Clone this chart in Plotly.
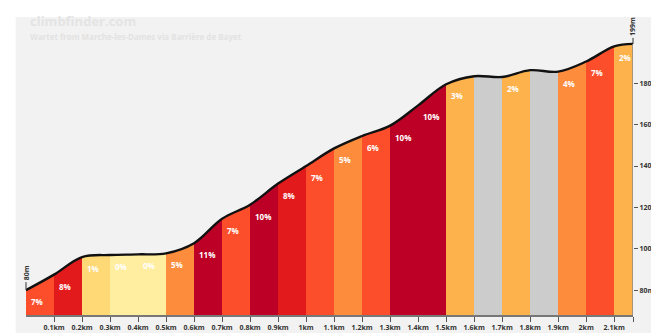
'''
    Climb profile: coloured gradient segments under a smoothed elevation line.
'''

import plotly.graph_objects as go

# distance marks along the climb (km) and elevation at each mark (m)
distance_km = [0, 0.1, 0.2, 0.3, 0.4, 0.5, 0.6, 0.7, 0.8, 0.9, 1.0, 1.1,
               1.2, 1.3, 1.4, 1.5, 1.6, 1.7, 1.8, 1.9, 2.0, 2.1, 2.167]
elevation_m = [80, 87.5, 96, 97, 97.3, 97.8, 102.7, 114.5, 121.3, 131.5, 140,
               148.5, 154.5, 159.5, 169.3, 179.5, 183.4, 183.0, 186.3, 185.6,
               190.5, 197.8, 199]

# gradient of each segment in percent (None = descent, shown grey, unlabeled)
grade_pct = [7, 8, 1, 0, 0, 5, 11, 7, 10, 8, 7, 5, 6, 10, 10, 3, None, 2,
             None, 4, 7, 2]

x_tick_vals = [0.1, 0.2, 0.3, 0.4, 0.5, 0.6, 0.7, 0.8, 0.9, 1.0, 1.1, 1.2,
               1.3, 1.4, 1.5, 1.6, 1.7, 1.8, 1.9, 2.0, 2.1]
x_tick_text = ['0.1km', '0.2km', '0.3km', '0.4km', '0.5km', '0.6km', '0.7km',
               '0.8km', '0.9km', '1km', '1.1km', '1.2km', '1.3km', '1.4km',
               '1.5km', '1.6km', '1.7km', '1.8km', '1.9km', '2km', '2.1km']
y_tick_vals = [80, 100, 120, 140, 160, 180]
y_tick_text = ['80m', '100m', '120m', '140m', '160m', '180m']

title = 'climbfinder.com'
subtitle = 'Wartet from Marche-les-Dames via Barrière de Bayet'

Y_MIN, Y_MAX = 68, 212
PANEL = '#f2f2f2'
FONT = 'Open Sans, sans-serif'


def grade_color(grade):
    if grade is None:
        return '#cccccc'
    if grade <= 0:
        return '#ffeda0'
    if grade <= 1:
        return '#fed976'
    if grade <= 3:
        return '#feb24c'
    if grade <= 5:
        return '#fd8d3c'
    if grade <= 7:
        return '#fc4e2a'
    if grade <= 9:
        return '#e31a1c'
    return '#bd0026'


n_seg = len(grade_pct)
starts = distance_km[:-1]
ends = distance_km[1:]
centers = [(a + b) / 2 for a, b in zip(starts, ends)]
widths = [b - a for a, b in zip(starts, ends)]
tops = [max(elevation_m[i], elevation_m[i + 1]) + 4 for i in range(n_seg)]

fig = go.Figure()

# coloured segments, cut off above the profile by the mask below
fig.add_trace(go.Bar(
    x=centers, y=[t - Y_MIN for t in tops], base=Y_MIN, width=widths,
    marker=dict(color=[grade_color(g) for g in grade_pct], line_width=0),
    hoverinfo='skip', showlegend=False))

# invisible ceiling, then the profile filled up to it with the panel colour
fig.add_trace(go.Scatter(
    x=distance_km, y=[Y_MAX] * len(distance_km), mode='lines',
    line=dict(width=0, color=PANEL), hoverinfo='skip', showlegend=False))
fig.add_trace(go.Scatter(
    x=distance_km, y=elevation_m, mode='lines', fill='tonexty',
    fillcolor=PANEL, line=dict(color='#111111', width=2.4, shape='spline'),
    hoverinfo='skip', showlegend=False))

# gradient labels
for i, g in enumerate(grade_pct):
    if g is None:
        continue
    fig.add_annotation(
        x=starts[i], y=elevation_m[i], text=f'{g}%', showarrow=False,
        xanchor='left', yanchor='top', xshift=3, yshift=-4,
        font=dict(family=FONT, size=8, color='white', weight='bold'))

# start / finish elevation labels
for xi, yi in ((distance_km[0], elevation_m[0]),
               (distance_km[-1], elevation_m[-1])):
    fig.add_annotation(
        x=xi, y=yi, text=f'{yi:.0f}m', textangle=-90, showarrow=True,
        arrowhead=0, arrowwidth=1, arrowcolor='#333333', ax=0, ay=-17,
        font=dict(family=FONT, size=7, color='#333333', weight='bold'))

# right-hand axis line, up to the finish
fig.add_shape(type='line', x0=distance_km[-1], x1=distance_km[-1],
              y0=Y_MIN, y1=elevation_m[-1], xref='x', yref='y',
              line=dict(color='#8a8a8a', width=1.5))

# grey panel behind everything
fig.add_shape(type='rect', xref='paper', yref='paper',
              x0=-0.017, x1=1.037, y0=-0.065, y1=1.0,
              fillcolor=PANEL, line_width=0, layer='below')

fig.add_annotation(
    xref='paper', yref='paper', x=0.004, y=0.987, text=title,
    showarrow=False, xanchor='left', yanchor='middle',
    font=dict(family=FONT, size=13, color='#e4e4e4', weight='bold'))
fig.add_annotation(
    xref='paper', yref='paper', x=0.004, y=0.935, text=subtitle,
    showarrow=False, xanchor='left', yanchor='middle',
    font=dict(family=FONT, size=8, color='#e2e2e2', weight='bold'))

fig.update_layout(
    width=659, height=333,
    margin=dict(l=18, r=26, t=9, b=24),
    paper_bgcolor='white', plot_bgcolor='rgba(0,0,0,0)',
    bargap=0, showlegend=False,
    xaxis=dict(
        range=[0, distance_km[-1]],
        tickvals=x_tick_vals + [distance_km[-1]],
        ticktext=x_tick_text + [''],
        ticks='outside', ticklen=5, tickcolor='#555555', tickwidth=1.2,
        showline=True, linecolor='#777777', linewidth=1.5,
        showgrid=False, zeroline=False,
        tickfont=dict(family=FONT, size=7, color='#333333', weight='bold')),
    yaxis=dict(
        range=[Y_MIN, Y_MAX], side='right',
        tickvals=y_tick_vals, ticktext=y_tick_text,
        ticks='outside', ticklen=4, tickcolor='#555555', tickwidth=1.2,
        showline=False, showgrid=False, zeroline=False,
        tickfont=dict(family=FONT, size=7, color='#333333', weight='bold')),
)

fig.write_html('out.html')
